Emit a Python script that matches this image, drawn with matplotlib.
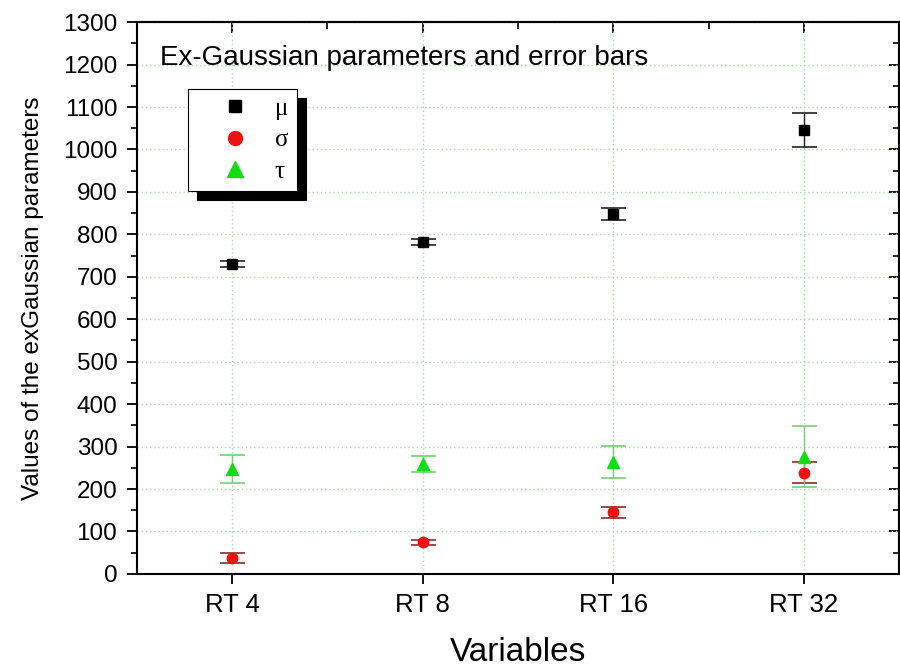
import matplotlib.pyplot as plt
from matplotlib.lines import Line2D
import numpy as np

# data
categories = ['RT 4', 'RT 8', 'RT 16', 'RT 32']
mu = [730, 781, 848, 1045]
mu_err = [8, 7, 15, 40]
sigma = [37, 75, 145, 238]
sigma_err = [12, 6, 13, 25]
tau = [247, 259, 264, 276]
tau_err = [33, 18, 37, 72]

x = np.arange(1, len(categories) + 1)

plt.rcParams['font.family'] = ['Liberation Sans', 'DejaVu Sans']

fig = plt.figure(figsize=(9, 6.72), dpi=100)
ax = fig.add_axes([0.152, 0.146, 0.847, 0.821])

# dotted green grid behind the points
ax.grid(True, which='major', color='#a8d8a8', linestyle=(0, (1, 2)), linewidth=1.0)
ax.set_axisbelow(True)

ax.errorbar(x, mu, yerr=mu_err, fmt='s', color='black', ecolor='#222222',
            markersize=7, capsize=9, elinewidth=1, capthick=1.2, zorder=3)
ax.errorbar(x, sigma, yerr=sigma_err, fmt='o', color='#ee1111', ecolor='#8b2a2a',
            markersize=7.5, capsize=9, elinewidth=1, capthick=1.2, zorder=3)
ax.errorbar(x, tau, yerr=tau_err, fmt='^', color='#11dd11', ecolor='#77cc77',
            markersize=8.5, capsize=9, elinewidth=1, capthick=1.2, zorder=3)

ax.set_xlim(0.5, 4.5)
ax.set_ylim(0, 1300)
ax.set_xticks(x)
ax.set_xticklabels(categories)
ax.set_yticks(np.arange(0, 1301, 100))
ax.set_yticks(np.arange(50, 1300, 100), minor=True)

ax.tick_params(axis='y', which='major', labelsize=17.5, length=7, width=1.3, direction='out', pad=7)
ax.tick_params(axis='y', which='minor', length=4, width=1.2, direction='out')
ax.tick_params(axis='x', which='major', labelsize=18.5, length=7, width=1.3, direction='out', pad=7)

# top and right axes carry inward ticks only
top = ax.secondary_xaxis('top')
top.set_xticks(x)
top.set_xticks(np.arange(1.5, 4.5, 1.0), minor=True)
top.set_xticklabels([])
top.tick_params(which='major', direction='in', length=8, width=1.3)
top.tick_params(which='minor', direction='in', length=5, width=1.2)
right = ax.secondary_yaxis('right')
right.set_yticks(np.arange(0, 1301, 100))
right.set_yticks(np.arange(50, 1300, 100), minor=True)
right.set_yticklabels([])
right.tick_params(which='major', direction='in', length=7, width=1.3)
right.tick_params(which='minor', direction='in', length=4, width=1.2)

for s in ax.spines.values():
    s.set_linewidth(1.5)
top.spines['top'].set_linewidth(1.5)
right.spines['right'].set_linewidth(1.5)

ax.set_xlabel('Variables', fontsize=24, labelpad=14)
ax.set_ylabel('Values of the exGaussian parameters', fontsize=17.5, labelpad=14)

ax.text(0.03, 0.935, 'Ex-Gaussian parameters and error bars', transform=ax.transAxes,
        fontsize=20, va='center', ha='left')

handles = [
    Line2D([], [], marker='s', ls='none', color='black', markersize=9),
    Line2D([], [], marker='o', ls='none', color='#ee1111', markersize=10),
    Line2D([], [], marker='^', ls='none', color='#11dd11', markersize=11),
]
leg = ax.legend(handles, ['μ', 'σ', 'τ'], loc='upper left', bbox_to_anchor=(0.067, 0.879),
                borderaxespad=0, frameon=True, fancybox=False,
                shadow={'color': 'black', 'alpha': 1.0, 'ox': 6.5, 'oy': -6.5},
                edgecolor='black', borderpad=0.34, labelspacing=0.36, handletextpad=0.05,
                handlelength=3.08, prop={'family': 'Liberation Serif', 'size': 18})
leg.get_frame().set_linewidth(0.8)

fig.savefig('out.png', dpi=100)
